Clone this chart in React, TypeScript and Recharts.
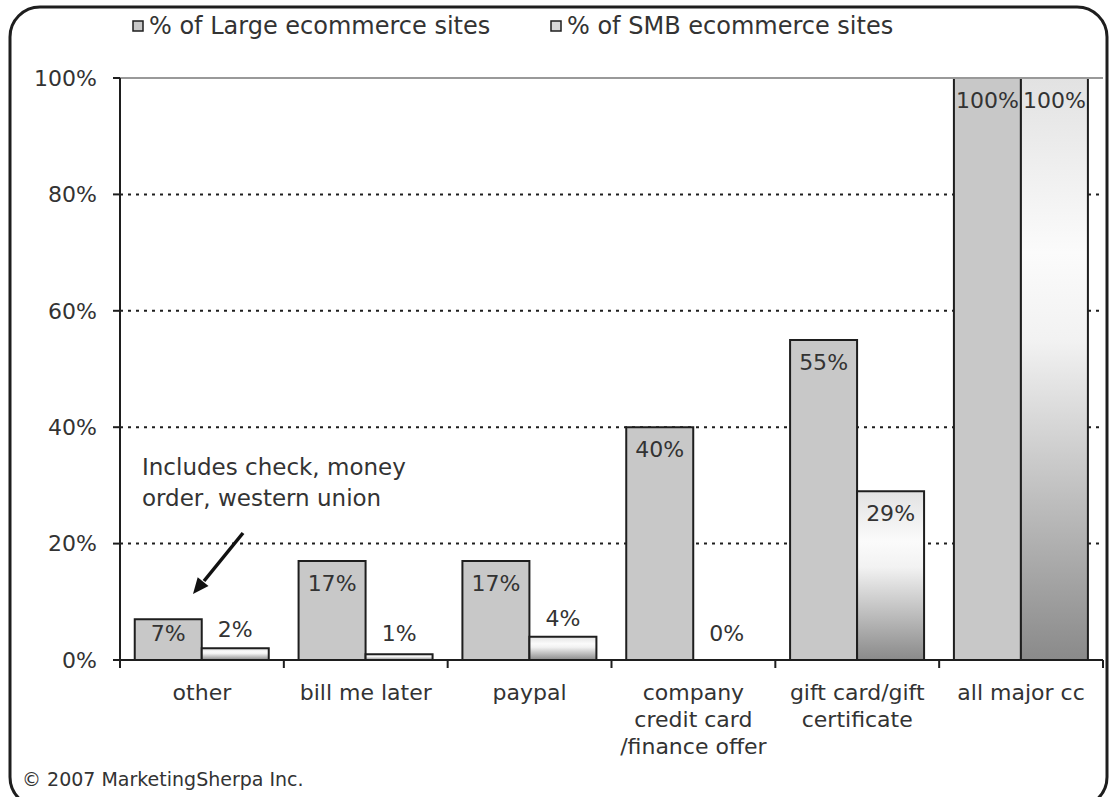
import React from 'react';
import {
    BarChart,
    Bar,
    XAxis,
    YAxis,
    CartesianGrid,
    ReferenceLine,
    LabelList,
    Rectangle
} from 'recharts';

const categories = [
    'other',
    'bill me later',
    'paypal',
    'company\ncredit card\n/finance offer',
    'gift card/gift\ncertificate',
    'all major cc'
];
const largeSites = [7, 17, 17, 40, 55, 100];
const smbSites = [2, 1, 4, 0, 29, 100];
const yTicks = [0, 20, 40, 60, 80, 100];

const FONT = '"DejaVu Sans", Verdana, sans-serif';
const TEXT = '#333';
const INK = '#1e1e1e';

const W = 1111;
const H = 797;
const MARGIN = { top: 78, right: 8, left: 20, bottom: 0 };
const Y_AXIS_W = 100;
const PLOT_W = W - MARGIN.left - Y_AXIS_W - MARGIN.right;
const BAND = PLOT_W / categories.length;

const data = categories.map((name, i) => ({
    name,
    large: largeSites[i],
    smb: smbSites[i]
}));

// x labels are centred, but the tick marks sit on the category boundaries
const CategoryTick = (props: any) => {
    const { x, y, payload, index } = props;
    const lines = String(payload.value).split('\n');
    const half = BAND / 2;
    return (
        <g>
            <line x1={x - half} x2={x - half} y1={y} y2={y + 8} stroke={INK} strokeWidth={2} />
            {index === categories.length - 1 && (
                <line x1={x + half} x2={x + half} y1={y} y2={y + 8} stroke={INK} strokeWidth={2} />
            )}
            <text x={x} y={y + 40} textAnchor="middle" fontSize={22} fill={TEXT} fontFamily={FONT}>
                {lines.map((l, i) => (
                    <tspan key={i} x={x} dy={i === 0 ? 0 : 27}>{l}</tspan>
                ))}
            </text>
        </g>
    );
};

const BarValue = (props: any) => {
    const { x, y, width, height, value } = props;
    const inside = height > 30;
    const ty = inside ? Math.min(y + 30, 641) : Math.min(y - 11, 641);
    return (
        <text x={x + width / 2} y={ty} textAnchor="middle" fontSize={22} fill={TEXT} fontFamily={FONT}>
            {value}%
        </text>
    );
};

// zero values keep their slot (for the label) but draw no rectangle
const SmbShape = (props: any) => {
    if (props.payload && props.payload.smb === 0) return <g />;
    return <Rectangle {...props} />;
};

export default function App() {
    return (
        <div style={{ position: 'fixed', left: 0, top: 0, width: W, height: H, background: '#fff' }}>
            <BarChart
                width={W}
                height={H}
                data={data}
                margin={MARGIN}
                barCategoryGap="9%"
                barGap={0}
            >
                <defs>
                    <linearGradient id="smbGrad" x1="0" y1="0" x2="0" y2="1">
                        <stop offset="0%" stopColor="#e2e2e2" />
                        <stop offset="30%" stopColor="#fbfbfb" />
                        <stop offset="45%" stopColor="#f2f2f2" />
                        <stop offset="100%" stopColor="#8a8a8a" />
                    </linearGradient>
                </defs>
                <CartesianGrid
                    vertical={false}
                    horizontalValues={[20, 40, 60, 80]}
                    stroke={INK}
                    strokeWidth={2}
                    strokeDasharray="3 5"
                />
                <ReferenceLine y={100} stroke="#999" strokeWidth={2} />
                <XAxis
                    dataKey="name"
                    interval={0}
                    height={H - MARGIN.top - MARGIN.bottom - 582}
                    tickLine={false}
                    tickSize={0}
                    tickMargin={0}
                    axisLine={{ stroke: INK, strokeWidth: 2 }}
                    tick={<CategoryTick />}
                />
                <YAxis
                    width={Y_AXIS_W}
                    domain={[0, 100]}
                    ticks={yTicks}
                    tickFormatter={(v) => `${v}%`}
                    tickSize={7}
                    tickMargin={16}
                    axisLine={{ stroke: INK, strokeWidth: 2 }}
                    tickLine={{ stroke: INK, strokeWidth: 2 }}
                    tick={{ fill: TEXT, fontSize: 22, fontFamily: FONT }}
                />
                <YAxis
                    yAxisId="right"
                    orientation="right"
                    width={0}
                    domain={[0, 100]}
                    tick={false}
                    tickLine={false}
                    axisLine={{ stroke: '#999', strokeWidth: 2 }}
                />
                <Bar dataKey="large" fill="#c8c8c8" stroke={INK} strokeWidth={2} isAnimationActive={false}>
                    <LabelList dataKey="large" content={<BarValue />} />
                </Bar>
                <Bar
                    dataKey="smb"
                    fill="url(#smbGrad)"
                    stroke={INK}
                    strokeWidth={2}
                    minPointSize={1}
                    shape={SmbShape}
                    isAnimationActive={false}
                >
                    <LabelList dataKey="smb" content={<BarValue />} />
                </Bar>
            </BarChart>

            <svg
                width={W}
                height={H}
                style={{ position: 'absolute', left: 0, top: 0, pointerEvents: 'none' }}
                fontFamily={FONT}
            >
                <rect x={10} y={7} width={1097} height={800} rx={30} ry={30} fill="none" stroke={INK} strokeWidth={3} />

                {/* legend */}
                <rect x={133} y={21} width={10} height={10} fill="#c8c8c8" stroke={INK} strokeWidth={1.5} />
                <text x={149} y={34} fontSize={24} fill={TEXT}>% of Large ecommerce sites</text>
                <rect x={551} y={21} width={10} height={10} fill="#d8d8d8" stroke={INK} strokeWidth={1.5} />
                <text x={567} y={34} fontSize={24} fill={TEXT}>% of SMB ecommerce sites</text>

                {/* annotation */}
                <text x={142} y={475} fontSize={23} fill={TEXT}>Includes check, money</text>
                <text x={142} y={506} fontSize={23} fill={TEXT}>order, western union</text>
                <line x1={243} y1={533} x2={204} y2={581} stroke="#111" strokeWidth={3.5} />
                <polygon points="193,594 208.5,586 197.7,577.2" fill="#111" />

                <text x={22} y={786} fontSize={19} fill={TEXT}>© 2007 MarketingSherpa Inc.</text>
            </svg>
        </div>
    );
}
